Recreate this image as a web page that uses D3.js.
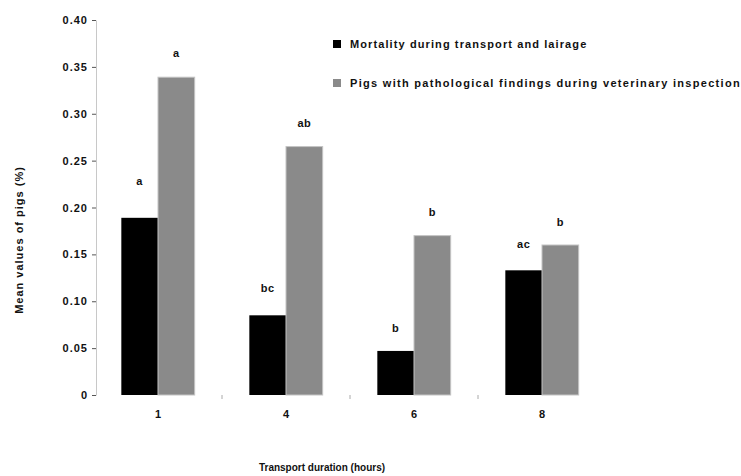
<!DOCTYPE html>
<html><head><meta charset="utf-8">
<script src="https://cdn.jsdelivr.net/npm/d3@7"></script>
<style>
html,body{margin:0;padding:0;background:#fff;}
svg text{font-family:"Liberation Sans",Arial,sans-serif;fill:#111;}
</style></head>
<body><svg id="c" width="741" height="476"></svg>
<script>
// ---- data ----
const durations = ["1", "4", "6", "8"];
const seriesNames = ["Mortality during transport and lairage",
                     "Pigs with pathological findings during veterinary inspection"];
const mortality = [0.189, 0.085, 0.047, 0.133];
const pathological = [0.339, 0.265, 0.170, 0.160];
const mortalityLetters = ["a", "bc", "b", "ac"];
const pathologicalLetters = ["a", "ab", "b", "b"];
const yTicks = [0, 0.05, 0.10, 0.15, 0.20, 0.25, 0.30, 0.35, 0.40];
const xTitle = "Transport duration (hours)";
const yTitle = "Mean values of pigs (%)";

// ---- layout / style ----
const colors = ["#000000", "#8a8a8a"];
const letterLift = [[37, 24], [27, 23], [23, 23], [26, 23]];
const svg = d3.select("#c");

const y = d3.scaleLinear().domain([0, 0.4]).range([395, 20]);
const x = d3.scaleBand().domain(durations).range([94, 606]).padding(0);
const groupW = x.bandwidth() * 0.573;
const xi = d3.scaleBand().domain([0, 1]).range([0, groupW]);

const series = [mortality, pathological];
const letters = [mortalityLetters, pathologicalLetters];

// y axis
const yAxis = d3.axisLeft(y).tickValues(yTicks)
  .tickFormat(d => d === 0 ? "0" : d3.format(".2f")(d))
  .tickSize(4).tickSizeOuter(0).tickPadding(4);
const gy = svg.append("g").attr("transform", "translate(96,0)").call(yAxis);
gy.select(".domain").attr("stroke", "#c8c8c8");
gy.selectAll(".tick line").attr("stroke", "#555");
gy.selectAll(".tick text").attr("font-size", 11).attr("font-weight", "bold")
  .attr("letter-spacing", "1px").attr("fill", "#111").attr("font-family", "Liberation Sans, Arial, sans-serif");

// x axis labels (no baseline) and boundary ticks
const xAxis = d3.axisBottom(x).tickSize(0).tickPadding(14);
const gx = svg.append("g").attr("transform", "translate(0,396)").call(xAxis);
gx.select(".domain").remove();
gx.selectAll(".tick text").attr("font-size", 11).attr("font-weight", "bold")
  .attr("fill", "#111").attr("font-family", "Liberation Sans, Arial, sans-serif");
svg.append("g").selectAll("line").data(durations.slice(1)).join("line")
  .attr("x1", d => x(d)).attr("x2", d => x(d))
  .attr("y1", 395).attr("y2", 399).attr("stroke", "#aaa");

// bars
series.forEach((vals, si) => {
  svg.append("g").selectAll("rect").data(durations).join("rect")
    .attr("x", (d, i) => x(d) + (x.bandwidth() - groupW) / 2 + xi(si))
    .attr("width", xi.bandwidth())
    .attr("y", (d, i) => y(vals[i]))
    .attr("height", (d, i) => y(0) - y(vals[i]))
    .attr("fill", colors[si])
    .attr("stroke", si === 1 ? "#c4c4c4" : "none")
    .attr("stroke-width", 1);
  svg.append("g").selectAll("text").data(durations).join("text")
    .attr("x", (d, i) => x(d) + (x.bandwidth() - groupW) / 2 + xi(si) + xi.bandwidth() / 2)
    .attr("y", (d, i) => y(vals[i]) - letterLift[i][si])
    .attr("dy", "0.35em")
    .attr("text-anchor", "middle")
    .attr("font-size", 11).attr("font-weight", "bold").attr("letter-spacing", "0.5px")
    .text((d, i) => letters[si][i]);
});

// legend
const legY = [44, 83];
const legSpacing = ["1.1px", "1.3px"];
seriesNames.forEach((name, si) => {
  svg.append("rect").attr("x", 333).attr("y", legY[si] - 4).attr("width", 8).attr("height", 8)
    .attr("fill", colors[si]);
  svg.append("text").attr("x", 350).attr("y", legY[si]).attr("dy", "0.35em")
    .attr("font-size", 11).attr("font-weight", "bold").attr("letter-spacing", legSpacing[si])
    .text(name);
});

// titles
svg.append("text").attr("x", 322).attr("y", 467).attr("dy", "0.35em").attr("text-anchor", "middle")
  .attr("font-size", 10).attr("font-weight", "bold").text(xTitle);
svg.append("text").attr("transform", "translate(19,240) rotate(-90)").attr("dy", "0.35em")
  .attr("text-anchor", "middle").attr("font-size", 11).attr("font-weight", "bold")
  .attr("letter-spacing", "1px").text(yTitle);
</script></body></html>
